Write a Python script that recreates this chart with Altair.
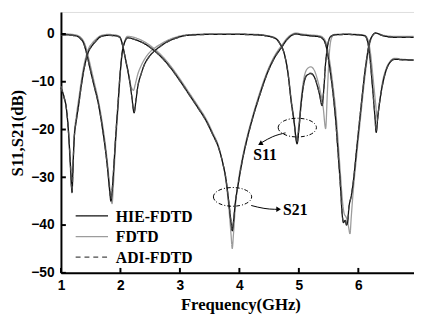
import altair as alt
import pandas as pd

# ---------------- data ----------------
methods = ["HIE-FDTD", "FDTD", "ADI-FDTD"]
line_colors = ["#111111", "#9c9c9c", "#4a4a4a"]
line_dashes = [[1, 0], [1, 0], [5, 4]]
x_ticks = [1, 2, 3, 4, 5, 6]
y_ticks = [-50, -40, -30, -20, -10, 0]

HIE_S21 = [(1.00, -0.2), (1.10, -0.2), (1.20, -0.3), (1.28, -0.5), (1.33, -1.0), (1.38, -1.9),
           (1.43, -4.0), (1.48, -6.8), (1.55, -10.5), (1.63, -14.7), (1.70, -20.0), (1.75, -24.5),
           (1.79, -29.0), (1.82, -33.0), (1.84, -35.0), (1.86, -33.0), (1.89, -27.5), (1.92, -21.5),
           (1.96, -14.5), (2.00, -7.5), (2.03, -3.8), (2.07, -1.8), (2.12, -0.8), (2.25, -1.2),
           (2.40, -2.0), (2.55, -3.3), (2.70, -5.0), (2.85, -7.2), (3.00, -9.8), (3.15, -12.6),
           (3.30, -15.4), (3.45, -18.4), (3.55, -21.0), (3.65, -23.8), (3.72, -27.0), (3.77, -30.0),
           (3.82, -35.0), (3.86, -39.5), (3.88, -41.2), (3.90, -39.5), (3.93, -35.5), (3.98, -31.5),
           (4.05, -26.5), (4.13, -22.0), (4.21, -18.2), (4.35, -12.5), (4.48, -7.9), (4.60, -4.8),
           (4.71, -2.8), (4.80, -1.2), (4.88, -0.3), (4.95, 0.0), (5.05, -0.2), (5.20, -0.4),
           (5.35, -0.6), (5.40, -1.0), (5.44, -1.8), (5.47, -3.2), (5.50, -5.5), (5.53, -8.0),
           (5.58, -13.0), (5.62, -18.2), (5.66, -25.0), (5.70, -32.0), (5.73, -38.0), (5.75, -39.5),
           (5.78, -39.0), (5.80, -40.0), (5.82, -39.5), (5.84, -36.5), (5.88, -34.0), (5.91, -31.5),
           (5.98, -23.0), (6.05, -14.7), (6.12, -7.0), (6.19, -1.7), (6.24, -0.3), (6.29, 0.2),
           (6.40, -0.3), (6.60, -0.7), (6.93, -0.7)]

FDTD_S21 = [(1.00, 0.0), (1.10, 0.0), (1.20, -0.1), (1.28, -0.3), (1.33, -0.7), (1.38, -1.5),
            (1.43, -3.2), (1.48, -5.8), (1.55, -9.6), (1.63, -14.0), (1.70, -19.0), (1.75, -23.5),
            (1.79, -28.0), (1.82, -32.0), (1.84, -34.5), (1.86, -35.5), (1.88, -32.0), (1.91, -25.0),
            (1.96, -15.5), (2.00, -8.0), (2.03, -4.0), (2.07, -1.6), (2.12, -0.5), (2.25, -0.8),
            (2.40, -1.6), (2.55, -2.9), (2.70, -4.6), (2.85, -6.8), (3.00, -9.4), (3.15, -12.2),
            (3.30, -15.0), (3.45, -18.0), (3.55, -20.6), (3.65, -23.5), (3.72, -27.0), (3.77, -30.5),
            (3.82, -36.0), (3.86, -42.0), (3.88, -44.9), (3.90, -42.0), (3.93, -36.5), (3.98, -31.0),
            (4.05, -26.0), (4.13, -21.5), (4.21, -17.8), (4.35, -12.0), (4.48, -7.5), (4.60, -4.4),
            (4.71, -2.4), (4.80, -0.9), (4.88, -0.1), (4.95, 0.2), (5.05, 0.0), (5.20, -0.2),
            (5.35, -0.4), (5.40, -0.7), (5.44, -1.3), (5.47, -2.4), (5.50, -4.3), (5.53, -6.6),
            (5.58, -11.5), (5.62, -16.0), (5.66, -22.5), (5.70, -29.5), (5.73, -34.5), (5.76, -37.5),
            (5.80, -38.5), (5.83, -40.0), (5.86, -41.8), (5.88, -38.5), (5.91, -33.5), (5.98, -24.5),
            (6.05, -16.0), (6.12, -8.0), (6.19, -2.2), (6.24, -0.3), (6.29, 0.2), (6.40, -0.2),
            (6.60, -0.5), (6.93, -0.5)]

ADI_S21 = [(1.00, -0.2), (1.10, -0.2), (1.20, -0.3), (1.28, -0.5), (1.33, -1.0), (1.38, -1.9),
           (1.43, -4.0), (1.48, -6.7), (1.55, -10.4), (1.63, -14.6), (1.70, -19.8), (1.75, -24.3),
           (1.79, -28.8), (1.82, -32.8), (1.84, -34.6), (1.86, -32.8), (1.89, -27.4), (1.92, -21.4),
           (1.96, -14.4), (2.00, -7.4), (2.03, -3.8), (2.07, -1.8), (2.12, -0.8), (2.25, -1.2),
           (2.40, -2.0), (2.55, -3.3), (2.70, -5.0), (2.85, -7.2), (3.00, -9.8), (3.15, -12.6),
           (3.30, -15.4), (3.45, -18.4), (3.55, -21.0), (3.65, -23.8), (3.72, -27.0), (3.77, -30.0),
           (3.82, -35.0), (3.86, -39.3), (3.88, -41.0), (3.90, -39.3), (3.93, -35.4), (3.98, -31.4),
           (4.05, -26.4), (4.13, -22.0), (4.21, -18.2), (4.35, -12.5), (4.48, -7.9), (4.60, -4.8),
           (4.71, -2.8), (4.80, -1.2), (4.88, -0.3), (4.95, 0.0), (5.05, -0.2), (5.20, -0.4),
           (5.35, -0.6), (5.40, -1.0), (5.44, -1.8), (5.47, -3.2), (5.50, -5.5), (5.53, -8.0),
           (5.58, -13.0), (5.62, -18.2), (5.66, -25.0), (5.70, -32.0), (5.73, -37.8), (5.75, -39.3),
           (5.78, -38.8), (5.80, -39.8), (5.82, -39.3), (5.84, -36.4), (5.88, -33.9), (5.91, -31.4),
           (5.98, -23.0), (6.05, -14.7), (6.12, -7.0), (6.19, -1.7), (6.24, -0.3), (6.29, 0.2),
           (6.40, -0.3), (6.60, -0.7), (6.93, -0.7)]

HIE_S11 = [(1.00, -11.2), (1.05, -13.2), (1.09, -15.5), (1.13, -21.0), (1.16, -27.5), (1.187, -33.2),
           (1.20, -29.0), (1.22, -22.5), (1.26, -18.0), (1.30, -14.7), (1.34, -11.0), (1.38, -7.9),
           (1.46, -3.8), (1.52, -2.5), (1.58, -1.6), (1.68, -0.5), (1.79, -0.3), (1.92, -0.4),
           (1.99, -0.7), (2.04, -2.5), (2.08, -5.0), (2.15, -9.5), (2.19, -13.0), (2.23, -16.5),
           (2.26, -14.0), (2.29, -11.2), (2.35, -8.3), (2.40, -6.5), (2.48, -4.8), (2.57, -3.6),
           (2.68, -2.5), (2.78, -1.7), (2.95, -0.8), (3.11, -0.3), (3.50, -0.1), (4.00, -0.1),
           (4.30, -0.2), (4.45, -0.4), (4.60, -0.9), (4.68, -2.0), (4.76, -4.4), (4.82, -8.5),
           (4.87, -14.0), (4.92, -18.5), (4.97, -23.0), (5.00, -20.0), (5.04, -14.5), (5.09, -10.0),
           (5.14, -8.6), (5.20, -8.3), (5.26, -9.0), (5.30, -10.4), (5.35, -12.8), (5.39, -15.0),
           (5.42, -11.5), (5.45, -6.0), (5.48, -2.8), (5.53, -0.6), (5.60, -0.2), (5.80, -0.1),
           (6.00, -0.2), (6.11, -0.4), (6.16, -1.8), (6.19, -4.4), (6.24, -11.4), (6.28, -17.5),
           (6.30, -20.6), (6.33, -17.0), (6.38, -12.5), (6.46, -7.9), (6.53, -6.0), (6.61, -5.3),
           (6.75, -5.4), (6.93, -5.5)]

FDTD_S11 = [(1.00, -11.0), (1.05, -13.0), (1.09, -15.5), (1.13, -21.5), (1.16, -28.5), (1.18, -32.0),
            (1.20, -28.0), (1.22, -22.0), (1.26, -17.0), (1.30, -13.5), (1.34, -10.0), (1.38, -7.0),
            (1.46, -3.2), (1.52, -2.0), (1.58, -1.2), (1.68, -0.3), (1.79, -0.1), (1.92, -0.2),
            (1.99, -0.6), (2.03, -2.2), (2.08, -4.8), (2.14, -8.5), (2.18, -11.0), (2.22, -11.8),
            (2.25, -10.5), (2.29, -8.5), (2.35, -6.6), (2.40, -5.4), (2.48, -4.0), (2.57, -3.0),
            (2.68, -2.1), (2.78, -1.4), (2.95, -0.6), (3.11, -0.2), (3.50, 0.0), (4.00, 0.0),
            (4.30, -0.1), (4.45, -0.3), (4.60, -0.8), (4.68, -1.9), (4.76, -4.3), (4.82, -8.2),
            (4.87, -13.5), (4.92, -18.0), (4.96, -22.0), (5.00, -19.0), (5.04, -13.5), (5.09, -9.0),
            (5.14, -7.3), (5.20, -6.9), (5.26, -7.6), (5.30, -9.0), (5.36, -12.0), (5.41, -15.5),
            (5.45, -19.8), (5.48, -12.0), (5.51, -4.5), (5.55, -0.8), (5.60, -0.1), (5.80, 0.0),
            (6.00, -0.1), (6.11, -0.3), (6.16, -1.2), (6.20, -3.6), (6.25, -9.5), (6.29, -14.5),
            (6.32, -17.8), (6.35, -15.0), (6.40, -10.5), (6.47, -7.2), (6.53, -5.8), (6.61, -5.1),
            (6.75, -5.3), (6.93, -5.4)]

ADI_S11 = [(1.00, -11.2), (1.05, -13.2), (1.09, -15.5), (1.13, -21.0), (1.16, -27.4), (1.187, -33.0),
           (1.20, -28.9), (1.22, -22.4), (1.26, -17.9), (1.30, -14.6), (1.34, -11.0), (1.38, -7.9),
           (1.46, -3.8), (1.52, -2.5), (1.58, -1.6), (1.68, -0.5), (1.79, -0.3), (1.92, -0.4),
           (1.99, -0.7), (2.04, -2.5), (2.08, -5.0), (2.15, -9.4), (2.19, -12.9), (2.23, -16.3),
           (2.26, -13.9), (2.29, -11.1), (2.35, -8.3), (2.40, -6.5), (2.48, -4.8), (2.57, -3.6),
           (2.68, -2.5), (2.78, -1.7), (2.95, -0.8), (3.11, -0.3), (3.50, -0.1), (4.00, -0.1),
           (4.30, -0.2), (4.45, -0.4), (4.60, -0.9), (4.68, -2.0), (4.76, -4.4), (4.82, -8.5),
           (4.87, -14.0), (4.92, -18.4), (4.97, -22.8), (5.00, -19.9), (5.04, -14.5), (5.09, -10.0),
           (5.14, -8.5), (5.20, -8.2), (5.26, -8.9), (5.30, -10.3), (5.35, -12.7), (5.39, -14.9),
           (5.42, -11.5), (5.45, -6.0), (5.48, -2.8), (5.53, -0.6), (5.60, -0.2), (5.80, -0.1),
           (6.00, -0.2), (6.11, -0.4), (6.16, -1.8), (6.19, -4.4), (6.24, -11.3), (6.28, -17.3),
           (6.30, -20.4), (6.33, -16.9), (6.38, -12.5), (6.46, -7.9), (6.53, -6.0), (6.61, -5.3),
           (6.75, -5.4), (6.93, -5.5)]

# annotations (data coordinates)
ellipse_f = [4.974, 3.885]
ellipse_db = [-19.6, -34.1]
label_text = ["S11", "S21"]
label_f = [4.43, 4.94]
label_db = [-25.4, -36.9]
arrow_id = ["a11", "a11", "a11", "a21", "a21", "a21", "a21"]
arrow_f = [4.776, 4.56, 4.38, 4.199, 4.413, 4.594, 4.64]
arrow_db = [-20.7, -21.5, -22.7, -35.9, -36.5, -36.7, -36.7]
head_f = [4.35, 4.66]
head_db = [-23.0, -36.7]
head_angle = [240, 90]

# ---------------- build table ----------------
rows = []
for m, p, pts in [("HIE-FDTD", "S21", HIE_S21), ("FDTD", "S21", FDTD_S21), ("ADI-FDTD", "S21", ADI_S21),
                  ("HIE-FDTD", "S11", HIE_S11), ("FDTD", "S11", FDTD_S11), ("ADI-FDTD", "S11", ADI_S11)]:
    for f, v in pts:
        rows.append({"f": f, "dB": v, "method": m, "param": p})
df = pd.DataFrame(rows)

ell_df = pd.DataFrame({"f": ellipse_f, "dB": ellipse_db})
lab_df = pd.DataFrame({"f": label_f, "dB": label_db, "t": label_text})
arr_df = pd.DataFrame({"f": arrow_f, "dB": arrow_db, "id": arrow_id})
head_df = pd.DataFrame({"f": head_f, "dB": head_db, "ang": head_angle})
xt_df = pd.DataFrame({"v": x_ticks})
yt_df = pd.DataFrame({"v": y_ticks})

W, H = 360, 266
xs = alt.Scale(domain=[1, 6.936], nice=False, zero=False)
ys = alt.Scale(domain=[-50, 4.6], nice=False, zero=False)

x_axis = alt.Axis(values=x_ticks, format="d", ticks=False, grid=False, labelFlush=False,
                  domainWidth=2, domainColor="black", labelFont="Liberation Sans",
                  labelFontWeight="bold", labelFontSize=14, labelColor="black", labelPadding=6,
                  title="Frequency(GHz)", titleFont="Liberation Serif", titleFontSize=17,
                  titleFontWeight="bold", titleColor="black", titleX=183, titleY=32,
                  titleBaseline="middle", titleAlign="center")
y_axis = alt.Axis(values=y_ticks, format="d", ticks=False, grid=False, labelFlush=False,
                  domainWidth=2, domainColor="black", labelFont="Liberation Sans",
                  labelFontWeight="bold", labelFontSize=14, labelColor="black", labelPadding=7,
                  title="S11,S21(dB)", titleFont="Liberation Serif", titleFontSize=17,
                  titleFontWeight="bold", titleColor="black", titleX=-44, titleY=123,
                  titleBaseline="middle", titleAlign="center", titleAngle=270)

base = alt.Chart(df).mark_line(strokeWidth=1.3, interpolate="monotone").encode(
    x=alt.X("f:Q", scale=xs, axis=x_axis),
    y=alt.Y("dB:Q", scale=ys, axis=y_axis),
    color=alt.Color("method:N", scale=alt.Scale(domain=methods, range=line_colors), legend=None),
    strokeDash=alt.StrokeDash("method:N", scale=alt.Scale(domain=methods, range=line_dashes), legend=None),
    detail="param:N",
)

lines = [base.transform_filter(alt.datum.method == m) for m in ["FDTD", "HIE-FDTD", "ADI-FDTD"]]

# legend drawn as a small key in the lower-left corner of the plot
legend_layers = []
for i, m in enumerate(methods):
    key_df = pd.DataFrame({"method": [m]})
    yy = 208 + 21 * i
    legend_layers.append(
        alt.Chart(key_df).mark_rule(strokeWidth=1.3, color=line_colors[i], strokeDash=line_dashes[i]).encode(
            x=alt.value(15), x2=alt.value(48), y=alt.value(yy)))
    legend_layers.append(
        alt.Chart(key_df).mark_text(font="Liberation Serif", fontWeight="bold", fontSize=16,
                                    color="black", align="left", baseline="middle").encode(
            x=alt.value(56), y=alt.value(yy + 1), text="method:N"))

ellipse_path = "M-1,0A1,0.49,0,1,0,1,0A1,0.49,0,1,0,-1,0Z"
ellipses = alt.Chart(ell_df).mark_point(shape=ellipse_path, size=1521, filled=False, color="black",
                                         strokeWidth=1, strokeDash=[4, 2, 1, 2], opacity=1).encode(
    x=alt.X("f:Q", scale=xs), y=alt.Y("dB:Q", scale=ys))
labels = alt.Chart(lab_df).mark_text(font="Liberation Serif", fontWeight="bold", fontSize=16,
                                     color="black").encode(
    x=alt.X("f:Q", scale=xs), y=alt.Y("dB:Q", scale=ys), text="t:N")
arrows = alt.Chart(arr_df).mark_line(color="black", strokeWidth=1, interpolate="monotone").encode(
    x=alt.X("f:Q", scale=xs), y=alt.Y("dB:Q", scale=ys), detail="id:N")
heads = alt.Chart(head_df).mark_point(shape="triangle-up", size=30, filled=True, color="black",
                                      opacity=1).encode(
    x=alt.X("f:Q", scale=xs), y=alt.Y("dB:Q", scale=ys), angle=alt.Angle("ang:Q", scale=None))

xticks = alt.Chart(xt_df).mark_rule(color="black", strokeWidth=2).encode(
    x=alt.X("v:Q", scale=xs), y=alt.value(H), y2=alt.value(H - 5))
yticks = alt.Chart(yt_df).mark_rule(color="black", strokeWidth=2).encode(
    y=alt.Y("v:Q", scale=ys), x=alt.value(0), x2=alt.value(5))

chart = alt.layer(*lines, ellipses, arrows, heads, labels, *legend_layers, xticks, yticks).properties(
    width=W, height=H,
    autosize=alt.AutoSizeParams(type="none"),
    padding={"left": 54, "top": 1, "right": 0, "bottom": 44},
).configure_view(stroke="black", strokeWidth=2).configure(background="white")

chart.save("out.html", embed_options={"renderer": "svg", "actions": False})
